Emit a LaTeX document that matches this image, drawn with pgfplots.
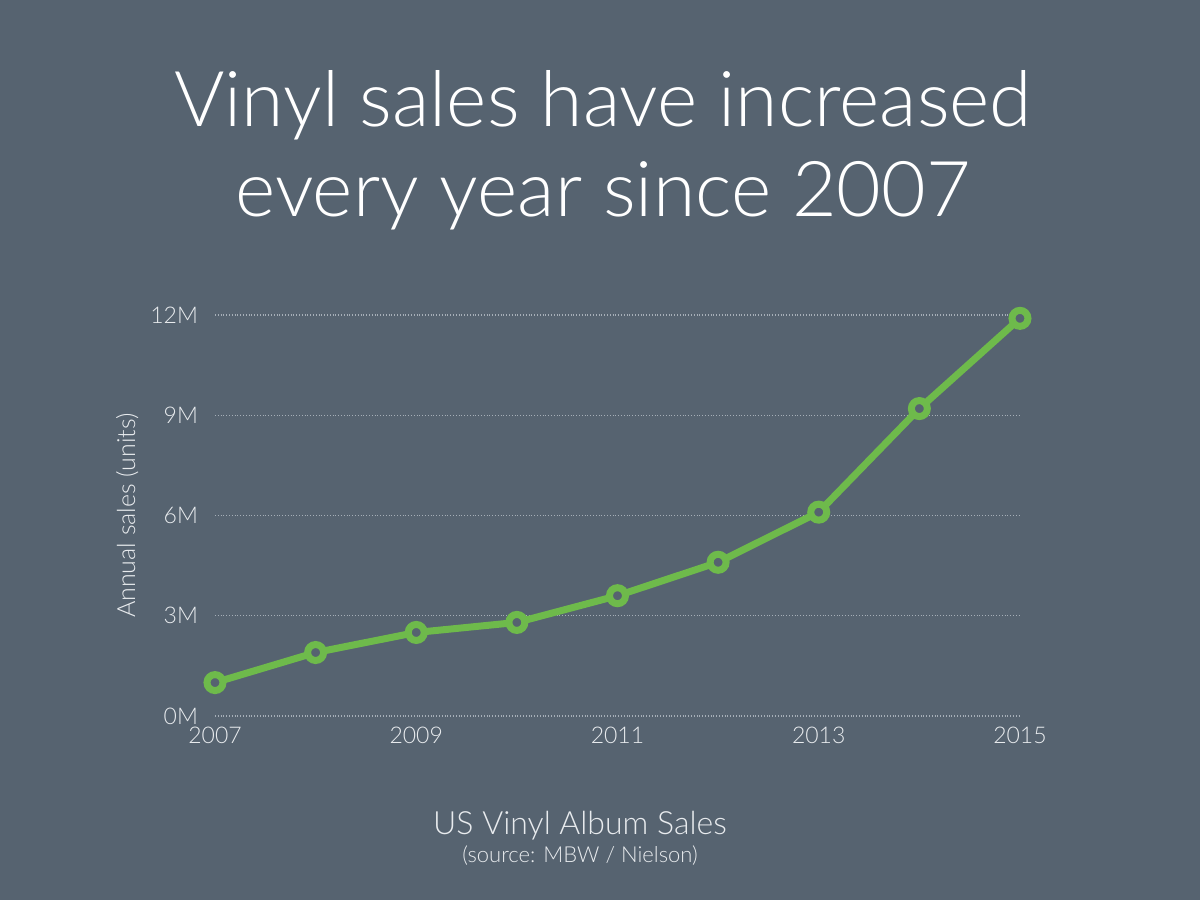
\documentclass[border=0pt]{standalone}
\usepackage{pgfplots}
\pgfplotsset{compat=1.18}
\usepackage{fontspec}
\setmainfont{Lato}
\newfontfamily\lightfont{Lato}[UprightFont=* Light]
\definecolor{slate}{RGB}{86,99,112}
\definecolor{vinylgreen}{RGB}{110,186,75}
\definecolor{softwhite}{RGB}{232,235,238}
\definecolor{gridgrey}{RGB}{165,174,183}

\begin{document}
\begin{tikzpicture}
\useasboundingbox (0,0) rectangle (600pt,450pt);
\fill[slate] (0,0) rectangle (600pt,450pt);
\node[anchor=base, text=white, font=\lightfont\fontsize{38.5}{46}\selectfont] at (301.5pt,386.5pt) {Vinyl sales have increased};
\node[anchor=base, text=white, font=\lightfont\fontsize{38.5}{46}\selectfont] at (301.5pt,341.5pt) {every year since 2007};
\begin{axis}[
    at={(107.5pt,92pt)},
    anchor=south west,
    scale only axis,
    width=402.5pt,
    height=200.5pt,
    xmin=2007, xmax=2015,
    ymin=0, ymax=12,
    enlargelimits=false,
    clip=false,
    axis line style={draw=none},
    tick style={draw=none},
    ymajorgrids,
    grid style={densely dotted, gridgrey, line width=0.6pt},
    xtick={2007,2009,2011,2013,2015},
    xticklabels={2007,2009,2011,2013,2015},
    ytick={0,3,6,9,12},
    yticklabels={0M,3M,6M,9M,12M},
    ticklabel style={text=softwhite, font=\lightfont\fontsize{11.5}{13}\selectfont},
    yticklabel style={xshift=-5pt},
    xticklabel style={yshift=-2pt},
    ylabel={Annual sales (units)},
    ylabel style={at={(axis description cs:-0.109,0.5)}, anchor=center, text=softwhite, font=\lightfont\fontsize{12.5}{14}\selectfont},
]
\addplot[vinylgreen, line width=3.5pt, mark=*, mark size=4pt,
    mark options={fill=slate, draw=vinylgreen, line width=3.5pt}] coordinates {
    (2007, 1.0)
    (2008, 1.9)
    (2009, 2.5)
    (2010, 2.8)
    (2011, 3.6)
    (2012, 4.6)
    (2013, 6.1)
    (2014, 9.2)
    (2015, 11.9)
};
\end{axis}
\node[anchor=base, text=softwhite, font=\lightfont\fontsize{16}{19}\selectfont] at (290pt,32.5pt) {US Vinyl Album Sales};
\node[anchor=base, text=softwhite, font=\lightfont\fontsize{11}{13}\selectfont] at (290pt,19pt) {(source: MBW / Nielson)};
\end{tikzpicture}
\end{document}
